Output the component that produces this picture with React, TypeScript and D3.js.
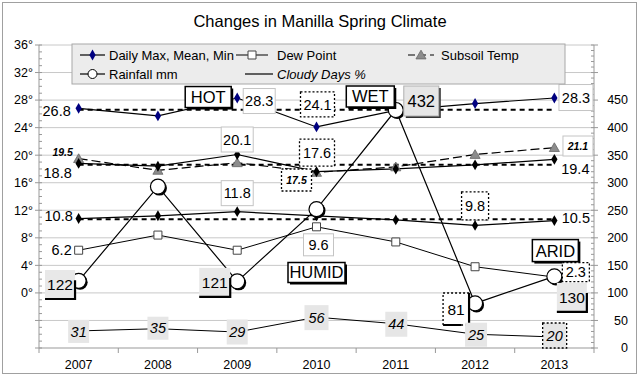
import React from 'react';
import * as d3 from 'd3';

const years = ['2007', '2008', '2009', '2010', '2011', '2012', '2013'];
const maxTemp = [26.8, 25.7, 28.3, 24.1, 26.5, 27.5, 28.3];
const meanTemp = [18.8, 18.4, 20.1, 17.6, 18.0, 18.6, 19.4];
const minTemp = [10.8, 11.2, 11.8, 11.2, 10.6, 9.8, 10.5];
const dewPoint = [6.2, 8.4, 6.2, 9.6, 7.4, 3.8, 2.3];
const subsoil = [19.5, 17.8, 18.9, 17.5, 18.3, 20.1, 21.1];
const rainfall = [122, 293, 121, 252, 432, 81, 130];
const cloudyDays = [31, 35, 29, 56, 44, 25, 20];
const longTermAverages = [26.6, 18.6, 10.7];
const leftTicks = [0, 4, 8, 12, 16, 20, 24, 28, 32, 36];
const rightTicks = [0, 50, 100, 150, 200, 250, 300, 350, 400, 450];
const gridValues = [-4, 0, 4, 8, 12, 16, 20, 24, 28, 32, 36];

type Series = 'max' | 'mean' | 'min' | 'dew' | 'soil' | 'rain' | 'cloud';
type Lbl = { t: string; s: Series; i: number; dx: number; dy: number; w: number; h: number; k: string };

// annotation layout (offsets from the anchored data point)
const labels: Lbl[] = [
  { t: '26.8', s: 'max', i: 0, dx: -22, dy: 2, w: 30, h: 20, k: 'plain' },
  { t: 'HOT', s: 'max', i: 2, dx: -29, dy: -1, w: 46, h: 21, k: 'callout' },
  { t: '28.3', s: 'max', i: 2, dx: 22, dy: 3, w: 32, h: 25, k: 'box' },
  { t: '24.1', s: 'max', i: 3, dx: 1, dy: -22.5, w: 34, h: 25, k: 'dotted' },
  { t: 'WET', s: 'rain', i: 4, dx: -25.5, dy: -13.5, w: 48, h: 21, k: 'callout' },
  { t: '432', s: 'rain', i: 4, dx: 25.5, dy: -9, w: 35, h: 30, k: 'grey3d' },
  { t: '28.3', s: 'max', i: 6, dx: 21.6, dy: -0.5, w: 34, h: 26, k: 'box' },
  { t: '20.1', s: 'mean', i: 2, dx: 0, dy: -15, w: 32, h: 25, k: 'box' },
  { t: '17.6', s: 'mean', i: 3, dx: 0.5, dy: -19, w: 35, h: 27, k: 'dotted' },
  { t: '17.5', s: 'soil', i: 3, dx: -20, dy: 7.6, w: 30, h: 22, k: 'dottedBI' },
  { t: '19.5', s: 'soil', i: 0, dx: -16, dy: -6.5, w: 24, h: 14, k: 'plainBI' },
  { t: '18.8', s: 'mean', i: 0, dx: -21, dy: 9.5, w: 30, h: 20, k: 'plain' },
  { t: '21.1', s: 'soil', i: 6, dx: 23.6, dy: -1.6, w: 30, h: 20, k: 'boxBI' },
  { t: '19.4', s: 'mean', i: 6, dx: 21, dy: 9, w: 30, h: 20, k: 'plain' },
  { t: '11.8', s: 'min', i: 2, dx: 0, dy: -18.5, w: 32, h: 25, k: 'box' },
  { t: '10.8', s: 'min', i: 0, dx: -20, dy: -2.5, w: 30, h: 20, k: 'plain' },
  { t: '9.8', s: 'min', i: 5, dx: 0, dy: -19.5, w: 27, h: 28, k: 'dotted' },
  { t: '10.5', s: 'min', i: 6, dx: 21.5, dy: -2.5, w: 30, h: 20, k: 'plain' },
  { t: '6.2', s: 'dew', i: 0, dx: -17, dy: 0, w: 22, h: 20, k: 'plain' },
  { t: '9.6', s: 'dew', i: 3, dx: 2, dy: 18, w: 30, h: 22, k: 'box' },
  { t: 'HUMID', s: 'dew', i: 3, dx: 0, dy: 45.7, w: 57, h: 20, k: 'callout' },
  { t: 'ARID', s: 'dew', i: 6, dx: 1, dy: -26.5, w: 46, h: 22, k: 'callout' },
  { t: '2.3', s: 'dew', i: 6, dx: 21.5, dy: -5, w: 27, h: 19, k: 'dotted' },
  { t: '130', s: 'rain', i: 6, dx: 17.5, dy: 21, w: 30, h: 29, k: 'shadow' },
  { t: '122', s: 'rain', i: 0, dx: -18.6, dy: 3.7, w: 30, h: 29, k: 'shadow' },
  { t: '121', s: 'rain', i: 2, dx: -22.5, dy: 1, w: 31, h: 29, k: 'shadow' },
  { t: '81', s: 'rain', i: 5, dx: -19, dy: 5.6, w: 26, h: 32, k: 'dotShadow' },
  { t: '31', s: 'cloud', i: 0, dx: 0, dy: 0.5, w: 21, h: 23, k: 'cloud' },
  { t: '35', s: 'cloud', i: 1, dx: 0, dy: -0.5, w: 21, h: 23, k: 'cloud' },
  { t: '29', s: 'cloud', i: 2, dx: 0, dy: 0, w: 21, h: 25, k: 'cloud' },
  { t: '56', s: 'cloud', i: 3, dx: 0, dy: 0.5, w: 24, h: 25, k: 'cloud' },
  { t: '44', s: 'cloud', i: 4, dx: 0.5, dy: 0.5, w: 22, h: 25, k: 'cloud' },
  { t: '25', s: 'cloud', i: 5, dx: 1, dy: 0.5, w: 22, h: 24, k: 'cloud' },
  { t: '20', s: 'cloud', i: 6, dx: 0.3, dy: -1.5, w: 24, h: 25, k: 'cloudDot' },
];

const W = 640, H = 378;
const L = 39, R = 594, T = 45, B = 348;
const FONT = 'Arial, "Liberation Sans", sans-serif';

export default function App() {
  const x = d3.scaleBand().domain(years).range([L, R]).padding(0);
  const cx = (i: number) => (x(years[i]) as number) + x.bandwidth() / 2;
  const yL = d3.scaleLinear().domain([-8, 36]).range([B, T]);
  const yR = d3.scaleLinear().domain([0, 550]).range([B, T]);

  const seriesVals: Record<Series, number[]> = {
    max: maxTemp, mean: meanTemp, min: minTemp, dew: dewPoint, soil: subsoil, rain: rainfall, cloud: cloudyDays,
  };
  const yOf = (s: Series, v: number) => (s === 'rain' || s === 'cloud' ? yR(v) : yL(v));
  const pt = (s: Series, i: number): [number, number] => [cx(i), yOf(s, seriesVals[s][i])];

  const lineFor = (s: Series) =>
    d3.line<number>().x((_, i) => cx(i)).y((v) => yOf(s, v))(seriesVals[s]) || '';

  const diamond = d3.symbol().type(d3.symbolDiamond).size(34)() || '';
  const square = d3.symbol().type(d3.symbolSquare).size(64)() || '';
  const tri = d3.symbol().type(d3.symbolTriangle).size(44)() || '';

  const leftMinor = d3.range(-8, 36.01, 1);
  const rightMinor = d3.range(0, 550.01, 10);

  const renderLabel = (l: Lbl, idx: number) => {
    const [px, py] = pt(l.s, l.i);
    const mx = px + l.dx, my = py + l.dy;
    const x0 = mx - l.w / 2, y0 = my - l.h / 2;
    const k = l.k;
    let fs = 14.5, fw = 'normal', fst = 'normal';
    if (k === 'plainBI' || k === 'dottedBI' || k === 'boxBI') { fs = 10.5; fw = 'bold'; fst = 'italic'; }
    if (k === 'callout') fs = 16.5;
    if (k === 'grey3d') fs = 16.5;
    if (k === 'shadow' || k === 'dotShadow') fs = 15.5;
    if (k === 'cloud' || k === 'cloudDot') fst = 'italic';
    const parts: React.ReactNode[] = [];
    if (k === 'box' || k === 'boxBI') {
      parts.push(<rect key="r" x={x0} y={y0} width={l.w} height={l.h} fill="#fff" stroke="#c4c4c4" strokeWidth={1} />);
    } else if (k === 'dotted' || k === 'dottedBI') {
      parts.push(<rect key="r" x={x0} y={y0} width={l.w} height={l.h} fill="#fff" stroke="#000" strokeWidth={1.3} strokeDasharray="2,2" />);
    } else if (k === 'callout') {
      parts.push(<rect key="s" x={x0 + 2} y={y0 + 2} width={l.w} height={l.h} fill="#000" />);
      parts.push(<rect key="r" x={x0} y={y0} width={l.w} height={l.h} fill="#fff" stroke="#000" strokeWidth={1.5} />);
    } else if (k === 'grey3d') {
      parts.push(<rect key="s" x={x0 + 2} y={y0 + 2} width={l.w} height={l.h} fill="#333" />);
      parts.push(<rect key="r" x={x0} y={y0} width={l.w} height={l.h} fill="#e6e6e6" stroke="#b0b0b0" strokeWidth={1} />);
    } else if (k === 'shadow') {
      parts.push(<rect key="r" x={x0} y={y0} width={l.w} height={l.h} fill="#e8e8e8" />);
      parts.push(<path key="p" d={`M${x0},${y0 + l.h}H${x0 + l.w}V${y0 + l.h * 0.35}`} fill="none" stroke="#000" strokeWidth={2.2} />);
    } else if (k === 'dotShadow') {
      parts.push(<rect key="r" x={x0} y={y0} width={l.w} height={l.h} fill="#fff" stroke="#000" strokeWidth={1.3} strokeDasharray="2,2" />);
      parts.push(<path key="p" d={`M${x0},${y0 + l.h}H${x0 + l.w * 0.7}M${x0 + l.w},${y0}V${y0 + l.h}`} fill="none" stroke="#000" strokeWidth={2.2} />);
    } else if (k === 'cloud') {
      parts.push(<rect key="r" x={x0} y={y0} width={l.w} height={l.h} fill="#e6e6e6" />);
    } else if (k === 'cloudDot') {
      parts.push(<rect key="r" x={x0} y={y0} width={l.w} height={l.h} fill="#e6e6e6" stroke="#000" strokeWidth={1.3} strokeDasharray="2,2" />);
    }
    parts.push(
      <text key="t" x={mx} y={my} dy="0.36em" textAnchor="middle" fontSize={fs} fontWeight={fw} fontStyle={fst} fill="#000">
        {l.t}
      </text>
    );
    return <g key={idx}>{parts}</g>;
  };

  return (
    <svg width={W} height={H} style={{ position: 'absolute', left: 0, top: 0, fontFamily: FONT }}>
      <rect x={0} y={0} width={W} height={H} fill="#fff" />
      <rect x={2.5} y={2.5} width={634} height={371} fill="none" stroke="#a0a0a0" strokeWidth={1} />
      <text x={320} y={21} dy="0.35em" textAnchor="middle" fontSize={16.5}>Changes in Manilla Spring Climate</text>

      {/* gridlines */}
      {gridValues.map((v) => (
        <line key={'g' + v} x1={L} x2={R} y1={yL(v)} y2={yL(v)} stroke="#c8c8c8" strokeWidth={1} />
      ))}

      {/* axes */}
      <line x1={L} x2={L} y1={T} y2={B} stroke="#999" />
      <line x1={R} x2={R} y1={T} y2={B} stroke="#999" />
      <line x1={L} x2={R} y1={B} y2={B} stroke="#999" />
      {leftMinor.map((v) => (
        <line key={'lm' + v} x1={L} x2={L + 3} y1={yL(v)} y2={yL(v)} stroke="#999" />
      ))}
      {gridValues.concat([-8]).map((v) => (
        <line key={'lM' + v} x1={L - 4} x2={L} y1={yL(v)} y2={yL(v)} stroke="#999" />
      ))}
      {rightMinor.map((v) => (
        <line key={'rm' + v} x1={R - 3} x2={R} y1={yR(v)} y2={yR(v)} stroke="#999" />
      ))}
      {d3.range(0, 551, 50).map((v) => (
        <line key={'rM' + v} x1={R} x2={R + 4} y1={yR(v)} y2={yR(v)} stroke="#999" />
      ))}
      {d3.range(0, years.length + 1).map((i) => (
        <line key={'xt' + i} x1={L + i * x.bandwidth()} x2={L + i * x.bandwidth()} y1={B} y2={B + 5} stroke="#999" />
      ))}
      {leftTicks.map((v) => (
        <text key={'lt' + v} x={33} y={yL(v)} dy="0.35em" textAnchor="end" fontSize={12.5}>{v}°</text>
      ))}
      {rightTicks.map((v) => (
        <text key={'rt' + v} x={628} y={yR(v)} dy="0.35em" textAnchor="end" fontSize={12.5}>{v}</text>
      ))}
      {years.map((yr, i) => (
        <text key={'c' + yr} x={cx(i)} y={365} dy="0.35em" textAnchor="middle" fontSize={12.5}>{yr}</text>
      ))}

      {/* long-term average lines */}
      {longTermAverages.map((v, j) => (
        <line key={'avg' + j} x1={cx(0)} x2={cx(years.length - 1)} y1={yL(v)} y2={yL(v)} stroke="#000" strokeWidth={2} strokeDasharray="5,4" />
      ))}

      {/* series lines */}
      <path d={lineFor('cloud')} fill="none" stroke="#000" strokeWidth={1} />
      <path d={lineFor('dew')} fill="none" stroke="#000" strokeWidth={1} />
      <path d={lineFor('soil')} fill="none" stroke="#000" strokeWidth={1.2} strokeDasharray="9,4" />
      <path d={lineFor('min')} fill="none" stroke="#000" strokeWidth={1.2} />
      <path d={lineFor('mean')} fill="none" stroke="#000" strokeWidth={1.2} />
      <path d={lineFor('max')} fill="none" stroke="#000" strokeWidth={1.2} />
      <path d={lineFor('rain')} fill="none" stroke="#000" strokeWidth={1.2} />

      {/* markers */}
      {dewPoint.map((v, i) => (
        <path key={'dp' + i} d={square} transform={`translate(${cx(i)},${yL(v)})`} fill="#fff" stroke="#444" strokeWidth={1} />
      ))}
      {subsoil.map((v, i) => (
        <path key={'ss' + i} d={tri} transform={`translate(${cx(i)},${yL(v) + 1})`} fill="#8c8c8c" stroke="#666" strokeWidth={0.8} />
      ))}
      {minTemp.map((v, i) => (
        <path key={'mn' + i} d={diamond} transform={`translate(${cx(i)},${yL(v)})`} fill="#000" />
      ))}
      {meanTemp.map((v, i) => (
        <path key={'me' + i} d={diamond} transform={`translate(${cx(i)},${yL(v)})`} fill="#000" />
      ))}
      {maxTemp.map((v, i) => (
        <path key={'mx' + i} d={diamond} transform={`translate(${cx(i)},${yL(v)})`} fill="#000080" />
      ))}
      {rainfall.map((v, i) => (
        <g key={'rf' + i}>
          <circle cx={cx(i) + 1.5} cy={yR(v) + 1.5} r={7.5} fill="#000" />
          <circle cx={cx(i)} cy={yR(v)} r={7.5} fill="#fff" stroke="#000" strokeWidth={1.2} />
        </g>
      ))}

      {/* data labels and annotations */}
      {labels.map(renderLabel)}

      {/* legend */}
      <g>
        <rect x={72} y={44} width={493} height={40} fill="#ececec" stroke="#a8a8a8" strokeWidth={1} />
        <line x1={80} x2={105} y1={55} y2={55} stroke="#000" strokeWidth={1.2} />
        <path d={diamond} transform="translate(92.5,55)" fill="#000080" />
        <text x={109} y={55} dy="0.35em" fontSize={13}>Daily Max, Mean, Min</text>

        <line x1={236} x2={268} y1={55} y2={55} stroke="#000" strokeWidth={1} />
        <path d={square} transform="translate(252,55)" fill="#fff" stroke="#444" strokeWidth={1} />
        <text x={277} y={55} dy="0.35em" fontSize={13}>Dew Point</text>

        <line x1={408} x2={434} y1={55} y2={55} stroke="#000" strokeWidth={1.2} strokeDasharray="7,4" />
        <path d={tri} transform="translate(421,56)" fill="#8c8c8c" stroke="#666" strokeWidth={0.8} />
        <text x={441} y={55} dy="0.35em" fontSize={13}>Subsoil Temp</text>

        <line x1={80} x2={105} y1={74} y2={74} stroke="#000" strokeWidth={1.2} />
        <circle cx={92.5} cy={74} r={4.5} fill="#fff" stroke="#000" strokeWidth={1} />
        <text x={109} y={74} dy="0.35em" fontSize={13}>Rainfall mm</text>

        <line x1={245} x2={273} y1={74} y2={74} stroke="#000" strokeWidth={1.2} />
        <text x={277} y={74} dy="0.35em" fontSize={13} fontStyle="italic">Cloudy Days %</text>
      </g>
    </svg>
  );
}
